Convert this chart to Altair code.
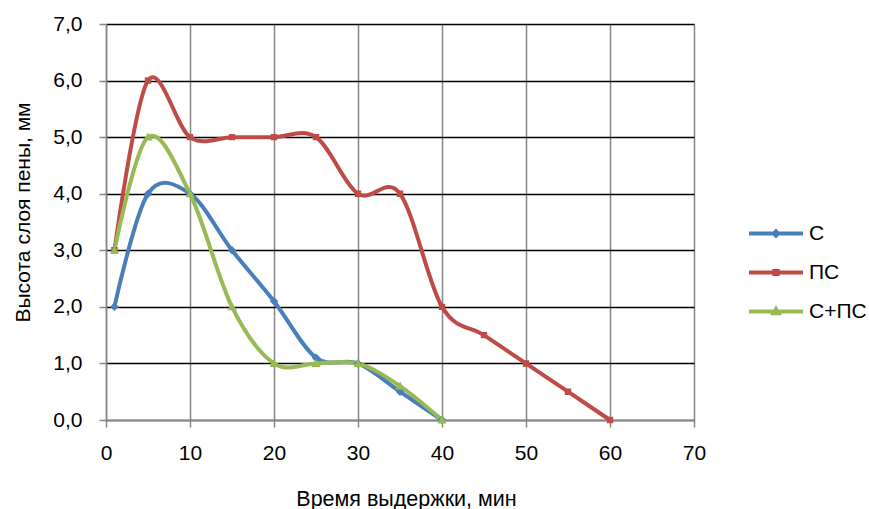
import altair as alt
import pandas as pd

series_names = ["С", "ПС", "С+ПС"]
x_c = [1, 5, 10, 15, 20, 25, 30, 35, 40]
y_c = [2.0, 4.0, 4.0, 3.0, 2.1, 1.1, 1.0, 0.5, 0.0]
x_pc = [1, 5, 10, 15, 20, 25, 30, 35, 40, 45, 50, 55, 60]
y_pc = [3.0, 6.0, 5.0, 5.0, 5.0, 5.0, 4.0, 4.0, 2.0, 1.5, 1.0, 0.5, 0.0]
x_cpc = [1, 5, 10, 15, 20, 25, 30, 35, 40]
y_cpc = [3.0, 5.0, 4.0, 2.0, 1.0, 1.0, 1.0, 0.6, 0.0]
x_ticks = [0, 10, 20, 30, 40, 50, 60, 70]
y_ticks = [0, 1, 2, 3, 4, 5, 6, 7]

colors = ["#4A7EBB", "#BE4B48", "#98B954"]
shapes = [
    "M-2,0H2M0,-0.16L0.16,0L0,0.16L-0.16,0Z",
    "M-2,0H2M-0.12,-0.12H0.12V0.12H-0.12Z",
    "M-2,0H2M0,-0.17L0.17,0.13L-0.17,0.13Z",
]

rows = []
for name, xs, ys in zip(series_names, [x_c, x_pc, x_cpc], [y_c, y_pc, y_cpc]):
    for i, (xv, yv) in enumerate(zip(xs, ys)):
        rows.append({"series": name, "t": xv, "h": yv, "order": i})
df = pd.DataFrame(rows)

FONT = "Liberation Sans"

x_enc = alt.X("t:Q", scale=alt.Scale(domain=[0, 70], nice=False),
              axis=alt.Axis(values=x_ticks, title="Время выдержки, мин",
                            grid=True, gridColor="#868686", gridWidth=1.5,
                            domainColor="#868686", domainWidth=1.5,
                            tickColor="#868686", tickWidth=1.5, tickSize=7,
                            labelPadding=15, labelFontSize=21, labelFont=FONT,
                            labelColor="black", titleFont=FONT, titleFontSize=21.5,
                            titleFontWeight="normal", titleColor="black",
                            titleX=300, titleY=85, titleBaseline="alphabetic",
                            titleAlign="center", labelFlush=False))
y_enc = alt.Y("h:Q", scale=alt.Scale(domain=[0, 7], nice=False),
              axis=alt.Axis(values=y_ticks, title="Высота слоя пены, мм",
                            labelExpr="replace(format(datum.value, '.1f'), '.', ',')",
                            grid=True, gridColor="black", gridWidth=1.3,
                            domainColor="#868686", domainWidth=1.5,
                            tickColor="#868686", tickWidth=1.5, tickSize=7,
                            labelPadding=17, labelFontSize=21, labelFont=FONT,
                            labelColor="black", titleFont=FONT, titleFontSize=21,
                            titleFontWeight="normal", titleColor="black",
                            titleX=-77, titleY=188, titleAngle=270,
                            titleBaseline="alphabetic", titleAlign="center",
                            labelFlush=False))

color_scale = alt.Scale(domain=series_names, range=colors)

legend_kw = dict(orient="none", legendX=654.5, legendY=194, title=None,
                 symbolSize=729, labelOffset=17.5, rowPadding=13,
                 labelFontSize=21, labelFont=FONT, labelColor="black",
                 padding=0, symbolStrokeWidth=4, symbolOpacity=1)

lines = alt.Chart(df).mark_line(interpolate="cardinal", strokeWidth=4).encode(
    x=x_enc, y=y_enc,
    stroke=alt.Stroke("series:N", scale=color_scale, legend=alt.Legend(**legend_kw)),
    order="order:Q",
    detail="series:N",
)

points = alt.Chart(df).mark_point(filled=False, opacity=1, size=2844, strokeWidth=0).encode(
    x="t:Q", y="h:Q",
    color=alt.Color("series:N", scale=color_scale,
                    legend=alt.Legend(**legend_kw)),
    fill=alt.Fill("series:N", scale=color_scale,
                  legend=alt.Legend(**legend_kw)),
    shape=alt.Shape("series:N", scale=alt.Scale(domain=series_names, range=shapes),
                    legend=alt.Legend(**legend_kw)),
)

chart = (lines + points).properties(
    width=588, height=396,
    autosize=alt.AutoSizeParams(type="none"),
    padding={"left": 106, "top": 24, "right": 175, "bottom": 89},
    background="white",
).configure_view(stroke=None)

chart.save("out.html", embed_options={"renderer": "svg", "actions": False})
